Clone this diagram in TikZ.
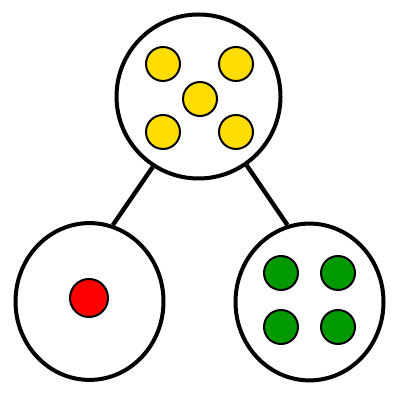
\documentclass[tikz,border=0pt]{standalone}
\usepackage{xcolor}
\usetikzlibrary{shapes.geometric}

\definecolor{dotyellow}{RGB}{255,221,0}
\definecolor{dotred}{RGB}{255,0,0}
\definecolor{dotgreen}{RGB}{0,153,0}

\begin{document}
\begin{tikzpicture}[
        group/.style = {draw, line width = 0.1cm, fill = white, inner sep = 0pt},
        bag/.style = {group, ellipse, minimum width = 3.7cm, minimum height = 3.92cm},
        dot/.style = {circle, draw, line width = 0.05cm, inner sep = 0pt,
            minimum size = 0.85cm},
        link/.style = {line width = 0.11cm}
    ]
        \useasboundingbox (0, 0) rectangle (10, 10);

        % the three groups
        \node [group, circle, minimum size = 4.1cm] (top) at (4.9625, 7.5875) {};
        \node [bag] (left) at (2.2375, 2.4625) {};
        \node [bag] (right) at (7.7375, 2.45) {};

        \draw [link] (top.237) -- (left.73);
        \draw [link] (top.305) -- (right.106);

        % yellow ones
        \node [dot, fill = dotyellow] (y1) at (4.075, 8.4) {};
        \node [dot, fill = dotyellow] (y2) at (5.9, 8.4) {};
        \node [dot, fill = dotyellow] (y3) at (5.0, 7.525) {};
        \node [dot, fill = dotyellow] (y4) at (4.075, 6.7) {};
        \node [dot, fill = dotyellow] (y5) at (5.9, 6.7) {};

        % red one
        \node [dot, fill = dotred, minimum size = 0.95cm] (r1) at (2.225, 2.55) {};

        % green ones
        \node [dot, fill = dotgreen] (g1) at (7.025, 3.175) {};
        \node [dot, fill = dotgreen] (g2) at (8.45, 3.175) {};
        \node [dot, fill = dotgreen] (g3) at (7.025, 1.825) {};
        \node [dot, fill = dotgreen] (g4) at (8.45, 1.825) {};
    \end{tikzpicture}
\end{document}
